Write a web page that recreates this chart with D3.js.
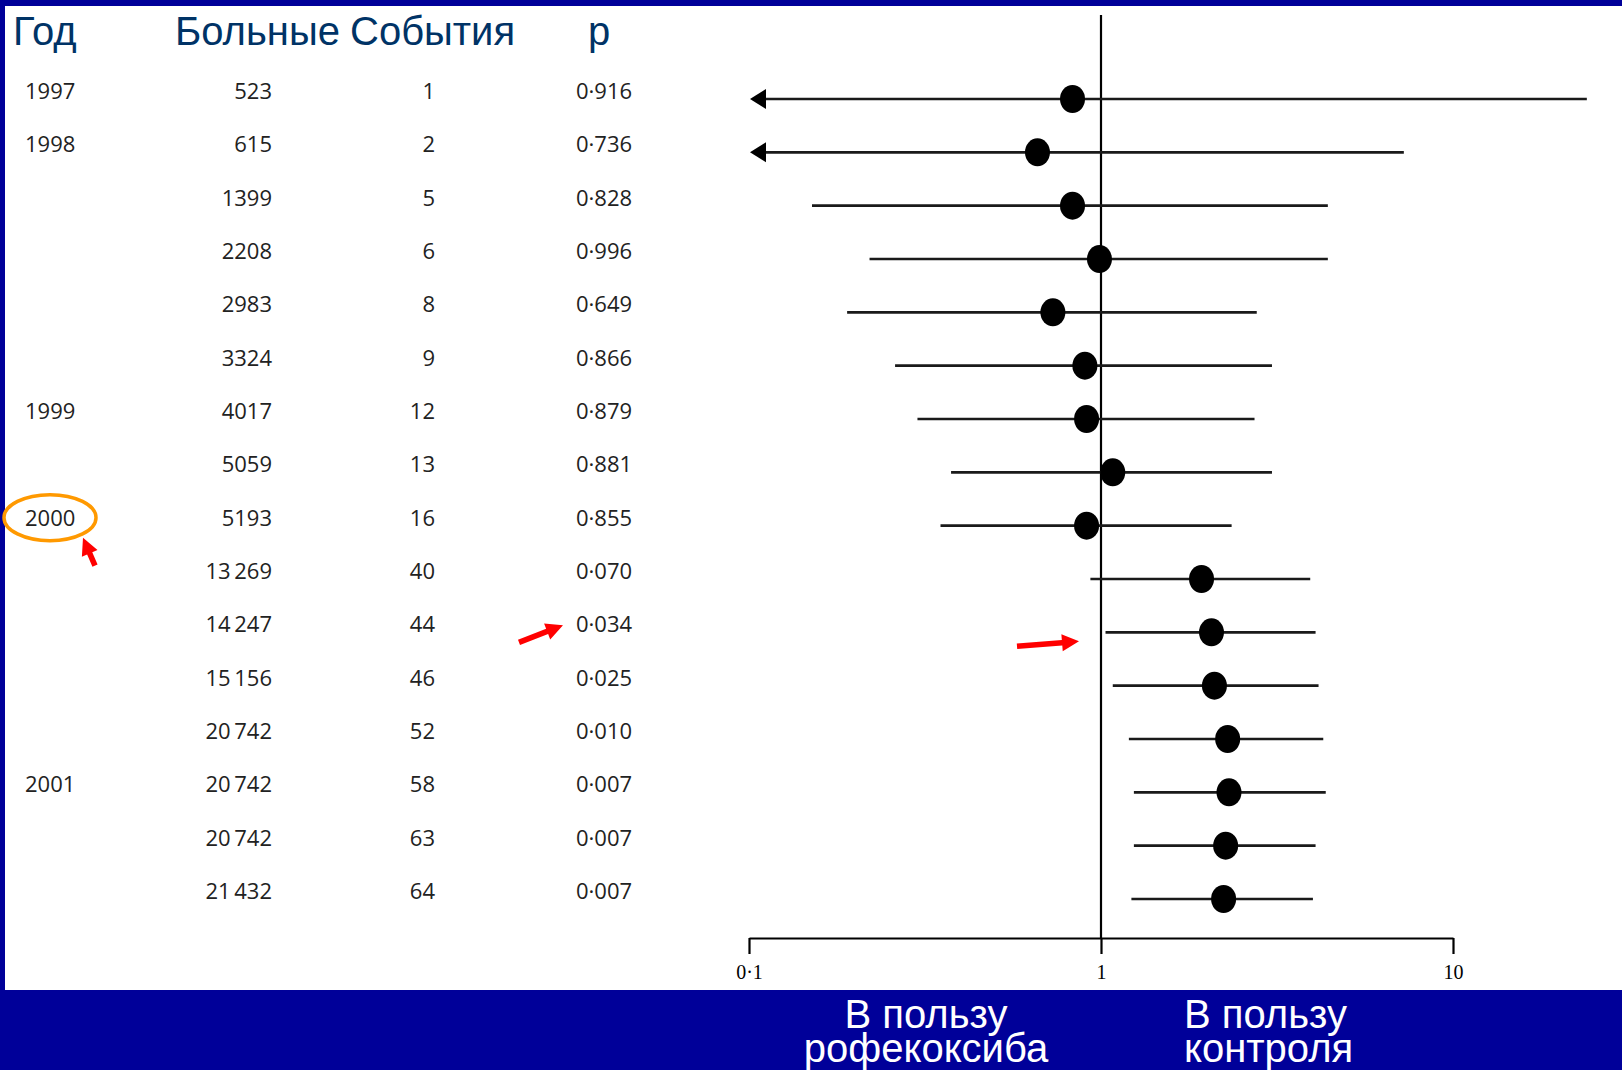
<!DOCTYPE html>
<html lang="ru">
<head>
<meta charset="UTF-8">
<title>Кумулятивный мета-анализ</title>
<script src="https://cdn.jsdelivr.net/npm/d3@7"></script>
<style>
    html, body { margin: 0; padding: 0; background: #000099; }
    svg { display: block; }
</style>
</head>
<body>
<svg id="chart" width="1622" height="1070"></svg>
<script>
// table columns, one entry per row
var years    = ["1997", "1998", "", "", "", "", "1999", "", "2000", "", "", "", "", "2001", "", ""];
var patients = ["523", "615", "1399", "2208", "2983", "3324", "4017", "5059", "5193",
                "13\u2009269", "14\u2009247", "15\u2009156", "20\u2009742", "20\u2009742", "20\u2009742", "21\u2009432"];
var events   = ["1", "2", "5", "6", "8", "9", "12", "13", "16", "40", "44", "46", "52", "58", "63", "64"];
var pValues  = ["0·916", "0·736", "0·828", "0·996", "0·649", "0·866", "0·879", "0·881", "0·855",
                "0·070", "0·034", "0·025", "0·010", "0·007", "0·007", "0·007"];

// relative risk and 95% CI; lower ends under 0.1 are drawn as arrows
var rr     = [0.83, 0.66, 0.83, 0.99, 0.73, 0.90, 0.91, 1.08, 0.91, 1.93, 2.06, 2.10, 2.29, 2.31, 2.26, 2.23];
var ciLow  = [0.05, 0.05, 0.151, 0.220, 0.190, 0.260, 0.301, 0.375, 0.350, 0.933, 1.03, 1.08, 1.20, 1.24, 1.24, 1.22];
var ciHigh = [24.0, 7.25, 4.41, 4.41, 2.77, 3.06, 2.73, 3.06, 2.35, 3.93, 4.07, 4.15, 4.28, 4.35, 4.07, 4.00];

var axisTicks  = [0.1, 1, 10];
var tickLabels = ["0·1", "1", "10"];

var headers     = ["Год", "Больные", "События", "р"];
var leftLabel   = ["В пользу", "рофекоксиба"];
var rightLabel  = ["В пользу", "контроля"];

var svg = d3.select("#chart");

svg.append("rect")
    .attr("width", 1622).attr("height", 1070)
    .attr("fill", "#000099");

svg.append("rect")
    .attr("x", 5).attr("y", 6)
    .attr("width", 1617).attr("height", 984)
    .attr("fill", "#ffffff");

var x = d3.scaleLog().domain([0.1, 10]).range([749, 1453]);
var y = d3.scalePoint().domain(d3.range(rr.length)).range([99, 899]);
var axisY = 938;

// header row
var headX = [13, 175, 350, 588];
svg.selectAll("text.head")
    .data(headers)
    .enter().append("text")
    .attr("class", "head")
    .attr("x", function (d, i) { return headX[i]; })
    .attr("y", 45)
    .attr("fill", "#003366")
    .style("font-family", "'Liberation Sans', Arial, sans-serif")
    .style("font-size", "40px")
    .text(function (d) { return d; });

// table text
var tableFont = "'Open Sans', 'Noto Sans', sans-serif";
function column(values, xPos, anchor) {
    svg.append("g")
        .selectAll("text")
        .data(values)
        .enter().append("text")
        .attr("x", xPos)
        .attr("y", function (d, i) { return y(i); })
        .attr("text-anchor", anchor)
        .attr("fill", "#222")
        .style("font-family", tableFont)
        .style("font-size", "22px")
        .text(function (d) { return d; });
}
column(years, 25, "start");
column(patients, 272, "end");
column(events, 435, "end");
column(pValues, 576, "start");

// reference line at RR = 1
svg.append("line")
    .attr("x1", x(1)).attr("x2", x(1))
    .attr("y1", 15).attr("y2", axisY)
    .attr("stroke", "#000").attr("stroke-width", 2.2);

// axis
var axis = svg.append("g")
    .attr("transform", "translate(0," + axisY + ")")
    .call(d3.axisBottom(x)
        .tickValues(axisTicks)
        .tickFormat(function (d, i) { return tickLabels[i]; })
        .tickSize(16)
        .tickSizeOuter(0));
axis.select(".domain").attr("stroke", "#000").attr("stroke-width", 2.2);
axis.selectAll(".tick line").attr("stroke", "#000").attr("stroke-width", 2.2);
axis.selectAll(".tick text")
    .attr("y", 27)
    .attr("fill", "#000")
    .style("font-family", "'Liberation Serif', 'Times New Roman', serif")
    .style("font-size", "20px");

// confidence intervals
var ci = svg.append("g");
ci.selectAll("line")
    .data(rr)
    .enter().append("line")
    .attr("x1", function (d, i) { return ciLow[i] < 0.1 ? x(0.1) + 4 : x(ciLow[i]); })
    .attr("x2", function (d, i) { return x(ciHigh[i]); })
    .attr("y1", function (d, i) { return y(i); })
    .attr("y2", function (d, i) { return y(i); })
    .attr("stroke", "#1a1a1a")
    .attr("stroke-width", 2.6);

// arrows for intervals running past 0.1
ci.selectAll("path.cut")
    .data(d3.range(rr.length).filter(function (i) { return ciLow[i] < 0.1; }))
    .enter().append("path")
    .attr("class", "cut")
    .attr("d", function (i) {
        var tx = x(0.1) + 1, ty = y(i);
        return "M" + tx + "," + ty + "L" + (tx + 16) + "," + (ty - 10) + "L" + (tx + 16) + "," + (ty + 10) + "Z";
    })
    .attr("fill", "#000");

// point estimates
svg.append("g")
    .selectAll("ellipse")
    .data(rr)
    .enter().append("ellipse")
    .attr("cx", function (d) { return x(d); })
    .attr("cy", function (d, i) { return y(i); })
    .attr("rx", 12.5)
    .attr("ry", 14)
    .attr("fill", "#000");

// bottom captions (tight leading as on the slide)
function caption(lines, xPos, anchor) {
    svg.append("g")
        .selectAll("text")
        .data(lines)
        .enter().append("text")
        .attr("x", xPos)
        .attr("y", function (d, i) { return 1028 + i * 34; })
        .attr("text-anchor", anchor)
        .attr("fill", "#fff")
        .style("font-family", "'Liberation Sans', Arial, sans-serif")
        .style("font-size", "40px")
        .text(function (d) { return d; });
}
caption(leftLabel, 926, "middle");
caption(rightLabel, 1184, "start");

// highlight marks
var yr2000 = years.indexOf("2000");
var firstSig = pValues.indexOf("0·034");

svg.append("ellipse")
    .attr("cx", 50).attr("cy", y(yr2000) - 8)
    .attr("rx", 46).attr("ry", 23)
    .attr("fill", "none")
    .attr("stroke", "#ff9900")
    .attr("stroke-width", 3.5);

function redArrow(x1, y1, x2, y2) {
    var a = Math.atan2(y2 - y1, x2 - x1);
    var len = Math.hypot(x2 - x1, y2 - y1);
    var head = 17, hw = 8.5, sw = 2.8;
    var g = svg.append("g")
        .attr("transform", "translate(" + x1 + "," + y1 + ") rotate(" + (a * 180 / Math.PI) + ")");
    g.append("path")
        .attr("d", "M0," + (-sw) + "L" + (len - head) + "," + (-sw) + "L" + (len - head) + "," + (-hw) +
            "L" + len + ",0L" + (len - head) + "," + hw + "L" + (len - head) + "," + sw + "L0," + sw + "Z")
        .attr("fill", "#ff0000");
}
redArrow(95, y(yr2000) + 40, 83, y(yr2000) + 12);
redArrow(519, y(firstSig) + 10, 563, y(firstSig) - 7);
redArrow(x(1) - 84, y(firstSig) + 14, x(1) - 22, y(firstSig) + 9);
</script>
</body>
</html>
